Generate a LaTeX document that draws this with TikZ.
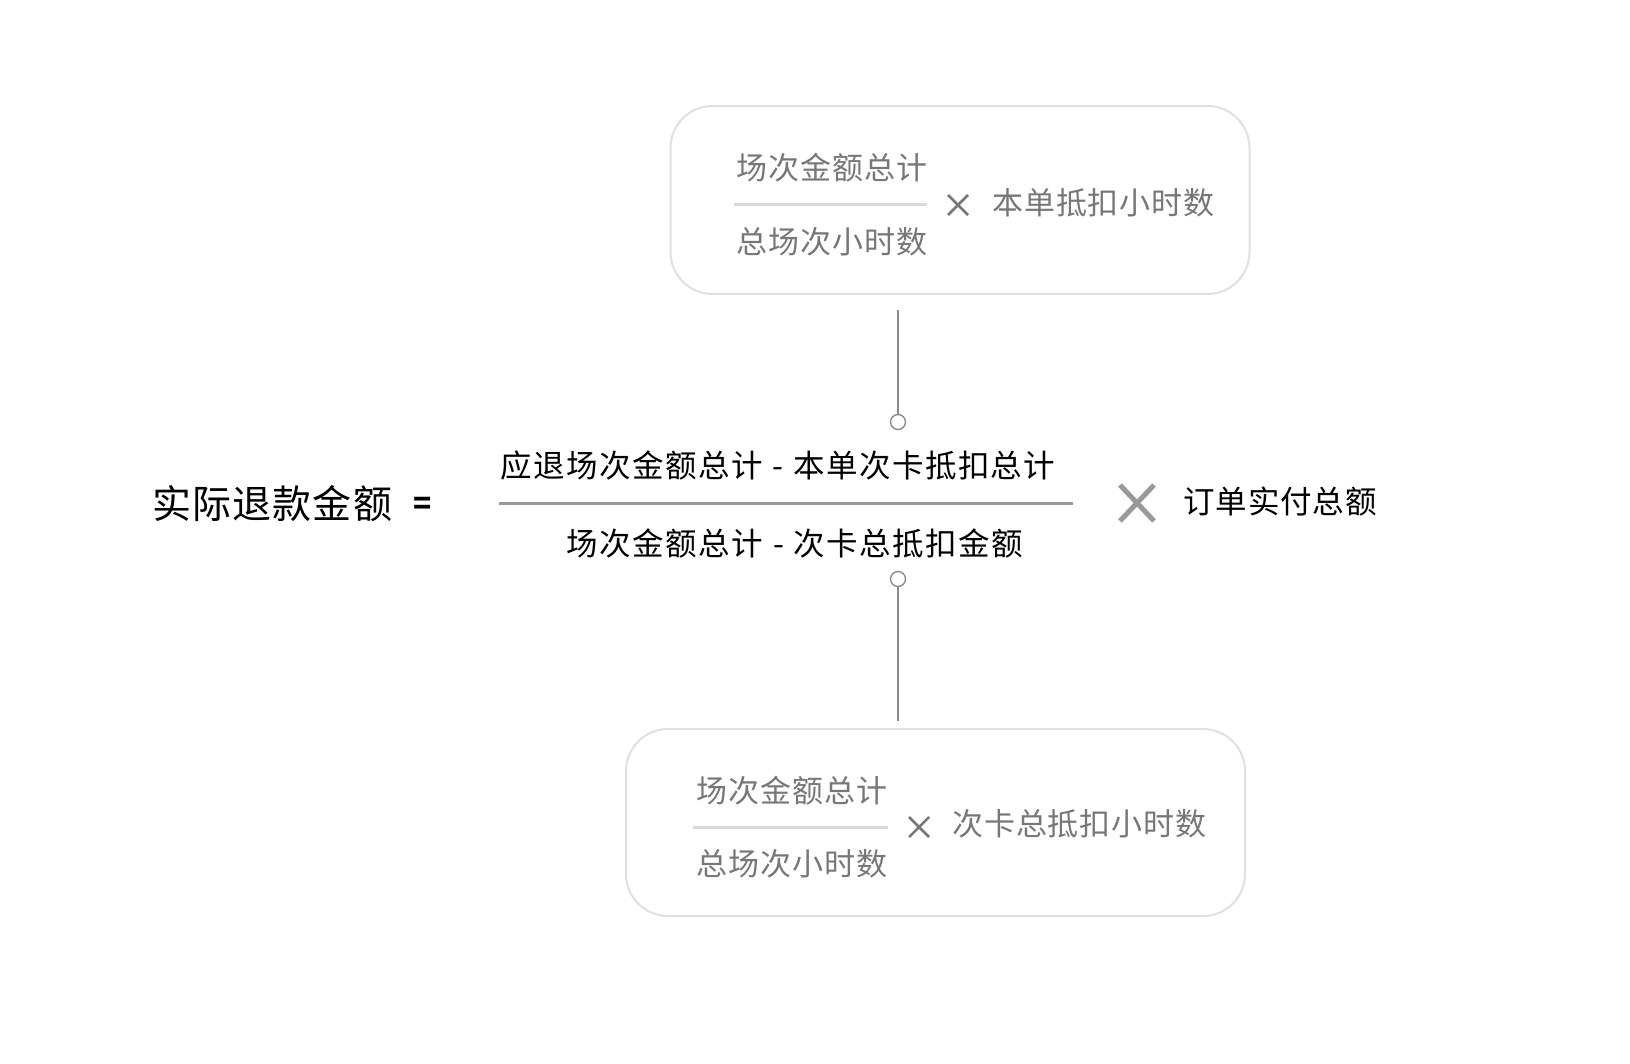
\documentclass[tikz,border=0pt]{standalone}
\usepackage{fontspec}
\newfontfamily\cjk[LetterSpace=3]{Noto Sans CJK SC}
\newfontfamily\cjkwide[LetterSpace=4.5]{Noto Sans CJK SC}
\definecolor{boxgray}{HTML}{E0E0E0}
\definecolor{txtgray}{HTML}{777777}
\definecolor{fracgray}{HTML}{D9D9D9}
\definecolor{linegray}{HTML}{8C8C8C}
\definecolor{bigx}{HTML}{999999}
\begin{document}
\begin{tikzpicture}[x=1pt,y=-1pt]
\tikzset{
  rbox/.style={draw=boxgray, line width=2pt, rounded corners=42pt, fill=white},
  graytxt/.style={text=txtgray, font=\cjk\fontsize{31}{36}\selectfont, inner sep=0pt, anchor=center},
  maintxt/.style={text=black, font=\cjkwide\fontsize{31.5}{36}\selectfont, inner sep=0pt, anchor=center},
  smallfrac/.style={draw=fracgray, line width=3pt},
  smallx/.style={draw=txtgray, line width=2.5pt},
  conn/.style={draw=linegray, line width=1.4pt},
  knob/.style={circle, draw=linegray, line width=1.4pt, fill=white, minimum size=15pt, inner sep=0pt}
}
\fill[white] (0,0) rectangle (1630,1064);
\useasboundingbox (0,0) rectangle (1630,1064);

% top box
\node[rbox, minimum width=579pt, minimum height=188pt] (topbox) at (960,200) {};
\node[graytxt] (tnum) at (832,168) {场次金额总计};
\node[graytxt] (tden) at (832,242) {总场次小时数};
\draw[smallfrac] (734,205) -- (927,205);
\coordinate (tx) at (958,205);
\draw[smallx] ([shift={(-10,-10)}]tx) -- ([shift={(10,10)}]tx);
\draw[smallx] ([shift={(-10,10)}]tx) -- ([shift={(10,-10)}]tx);
\node[graytxt, anchor=west] (tmul) at (992,203) {本单抵扣小时数};

% connectors
\coordinate (t1) at (898,310);
\node[knob] (c1) at (898,422) {};
\draw[conn] (t1) -- (c1);
\node[knob] (c2) at (898,579) {};
\coordinate (b1) at (898,721);
\draw[conn] (c2) -- (b1);

% main formula
\node[text=black, font=\cjk\fontsize{39}{44}\selectfont, inner sep=0pt, anchor=west] (lhs) at (152,504) {实际退款金额};
\node[text=black, font=\cjk\bfseries\fontsize{30}{34}\selectfont, inner sep=0pt] (eq) at (423,506) {=};
\node[maintxt] (num) at (778,465) {应退场次金额总计\hspace{10pt}-\hspace{10pt}本单次卡抵扣总计};
\draw[draw=bigx, line width=3pt] (499,503) -- (1073,503);
\node[maintxt] (den) at (795,543) {场次金额总计\hspace{10pt}-\hspace{10pt}次卡总抵扣金额};
\coordinate (bx) at (1137,503);
\draw[draw=bigx, line width=5pt] ([shift={(-17,-18)}]bx) -- ([shift={(17,18)}]bx);
\draw[draw=bigx, line width=5pt] ([shift={(-17,18)}]bx) -- ([shift={(17,-18)}]bx);
\node[text=black, font=\cjk\fontsize{31.5}{36}\selectfont, inner sep=0pt, anchor=west] (rhs) at (1183,501) {订单实付总额};

% bottom box
\node[rbox, minimum width=619pt, minimum height=187pt] (botbox) at (935.5,822.5) {};
\node[graytxt] (bnum) at (792,791) {场次金额总计};
\node[graytxt] (bden) at (792,864) {总场次小时数};
\draw[smallfrac] (693,827) -- (888,827);
\coordinate (bxs) at (919,827);
\draw[smallx] ([shift={(-10,-10)}]bxs) -- ([shift={(10,10)}]bxs);
\draw[smallx] ([shift={(-10,10)}]bxs) -- ([shift={(10,-10)}]bxs);
\node[graytxt, anchor=west] (bmul) at (952,824) {次卡总抵扣小时数};
\end{tikzpicture}
\end{document}
